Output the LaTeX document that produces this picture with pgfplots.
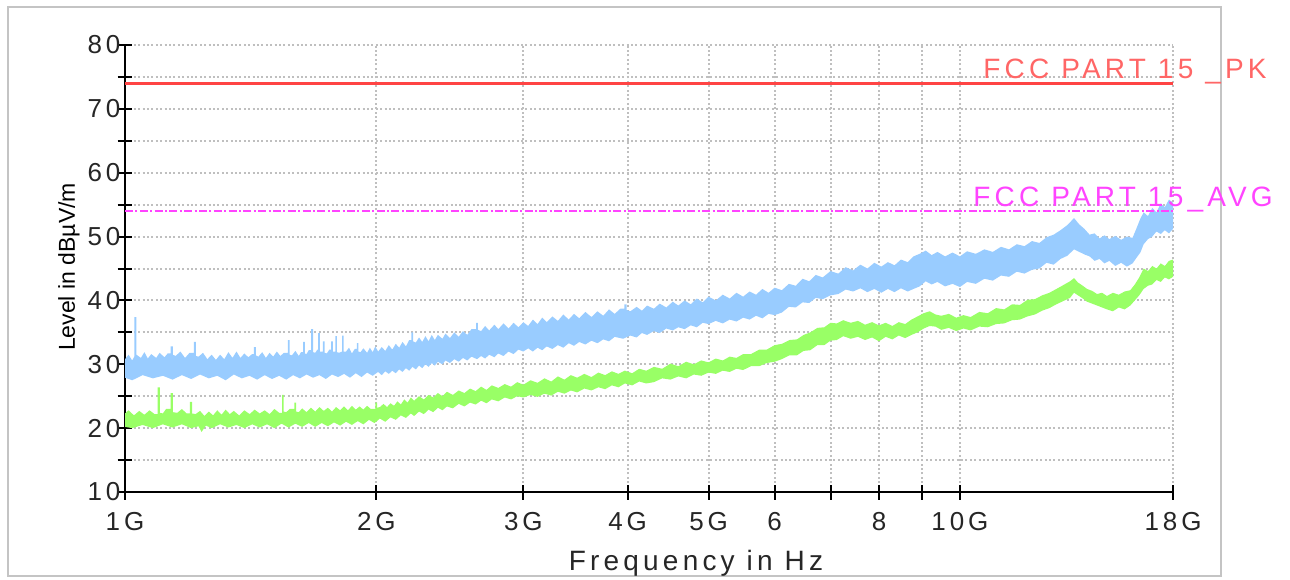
\documentclass[border=0pt]{standalone}
\usepackage{pgfplots}
\pgfplotsset{compat=1.18}
\usepackage{fontspec}
\setmainfont{Liberation Sans}
\newfontfamily\spaced[LetterSpace=15]{Liberation Sans}
\definecolor{pkblue}{HTML}{99CCFF}
\definecolor{avgreen}{HTML}{99FF66}
\definecolor{limred}{HTML}{FF4444}
\definecolor{limredtxt}{HTML}{FF6666}
\definecolor{limmag}{HTML}{FF44FF}
\definecolor{framegray}{HTML}{C4C4C4}
\begin{document}
\begin{tikzpicture}[x=0.5pt,y=0.5pt]
\path[use as bounding box] (0,0) rectangle (1290,579);
\draw[framegray, line width=1pt] (8,3) rectangle (1221,572);
\begin{axis}[
  at={(62.5pt,43.5pt)}, anchor=south west,
  scale only axis, width=524pt, height=223.5pt,
  xmode=log, xmin=1, xmax=18, ymin=10, ymax=80,
  axis x line*=bottom, axis y line*=left,
  axis line style={-, line width=1pt, black},
  xtick={1,2,3,4,5,6,7,8,9,10,18},
  xticklabels={1G,2G,3G,4G,5G,6,,8,,10G,18G},
  ytick={10,15,20,25,30,35,40,45,50,55,60,65,70,75,80},
  yticklabels={10,,20,,30,,40,,50,,60,,70,,80},
  minor xtick={}, minor ytick={},
  tick align=center, major tick length=7.5pt,
  tick style={line width=1pt, black},
  grid=major,
  major grid style={gray!50, line width=1pt, dash pattern=on 1pt off 1.2pt},
  xticklabel style={font=\spaced\fontsize{13}{15}\selectfont, color=black!85, yshift=-3pt},
  yticklabel style={font=\spaced\fontsize{13}{15}\selectfont, color=black!85, xshift=5pt},
  clip=false,
]
% Peak (blue) band: upper envelope then lower envelope reversed
\addplot[fill=pkblue, draw=none] coordinates {
(1.00,30.8) (1.01,31.5) (1.02,30.6) (1.026,31.2) (1.026,37.4) (1.032,37.4) (1.032,31.5) (1.045,31.0) (1.055,31.9)
(1.065,30.9) (1.075,31.6) (1.09,31.0) (1.10,31.8) (1.115,31.1) (1.125,31.7) (1.134,31.7) (1.134,32.8) (1.141,32.8) (1.141,31.5)
(1.15,31.3) (1.165,32.0) (1.18,31.0) (1.195,31.8) (1.209,31.8) (1.209,33.5) (1.216,33.5) (1.216,31.3) (1.225,31.2) (1.24,31.8)
(1.255,30.8) (1.27,31.5) (1.285,30.7) (1.30,31.5) (1.315,30.8) (1.33,31.9) (1.345,31.0) (1.36,32.0) (1.375,31.0)
(1.39,31.7) (1.405,31.1) (1.42,31.6) (1.427,31.6) (1.427,32.7) (1.435,32.7) (1.435,31.4) (1.445,31.2) (1.46,31.9) (1.475,31.0)
(1.49,31.8) (1.505,31.2) (1.52,32.0) (1.535,31.3) (1.55,31.8) (1.567,31.8) (1.567,33.8) (1.575,33.8) (1.575,31.5) (1.585,31.4)
(1.60,32.1) (1.615,31.3) (1.625,31.9) (1.634,31.9) (1.634,33.5) (1.642,33.5) (1.642,31.7) (1.65,31.6) (1.66,32.2)
(1.671,32.2) (1.671,35.5) (1.68,35.5) (1.68,31.9) (1.69,31.8) (1.70,32.3) (1.704,32.3) (1.704,34.9) (1.712,34.9) (1.712,32.0)
(1.718,32.0) (1.726,32.0) (1.726,33.6) (1.734,33.6) (1.734,31.8) (1.745,31.7) (1.757,32.3) (1.766,32.3) (1.766,33.6) (1.774,33.6)
(1.774,32.0) (1.786,32.0) (1.786,34.4) (1.794,34.4) (1.794,31.9) (1.805,31.8) (1.820,32.0) (1.820,34.5) (1.828,34.5) (1.828,32.0)
(1.84,32.0) (1.855,32.6) (1.87,31.7) (1.885,32.4) (1.896,32.4) (1.896,33.3) (1.904,33.3) (1.904,32.0) (1.915,31.9)
(1.93,32.5) (1.95,31.8) (1.965,32.6) (1.98,31.9) (1.995,32.8) (2.01,32.0) (2.03,32.7) (2.05,32.1) (2.07,33.0)
(2.09,32.3) (2.11,33.2) (2.13,32.6) (2.15,33.5) (2.17,32.8) (2.19,33.8) (2.203,33.8) (2.203,35.0) (2.213,35.0) (2.213,33.6)
(2.23,33.4) (2.25,34.2) (2.27,33.5) (2.29,34.4) (2.31,33.6) (2.33,34.6) (2.35,33.8) (2.37,34.6) (2.40,34.0) (2.42,34.8)
(2.45,34.1) (2.48,35.0) (2.51,34.3) (2.54,35.2) (2.57,34.6) (2.60,35.5) (2.634,35.5) (2.634,36.5) (2.646,36.5) (2.646,35.4)
(2.67,35.2) (2.70,36.0) (2.73,35.3) (2.77,36.2) (2.80,35.5) (2.84,36.4) (2.88,35.6) (2.92,36.5) (2.96,35.8)
(3.0,36.6) (3.04,36.0) (3.08,37.0) (3.12,36.3) (3.16,37.3) (3.2,36.6) (3.25,37.5) (3.3,36.8) (3.35,37.8)
(3.4,37.0) (3.45,37.9) (3.5,37.2) (3.56,38.2) (3.62,37.4) (3.68,38.3) (3.74,37.6) (3.8,38.6) (3.86,37.9)
(3.92,38.7) (3.965,38.7) (3.965,39.4) (3.99,39.4) (3.99,38.5) (4.03,38.3) (4.1,39.0) (4.16,38.4) (4.22,39.2) (4.3,38.7)
(4.37,39.5) (4.45,38.9) (4.53,39.8) (4.6,39.2) (4.68,40.0) (4.76,39.4) (4.84,40.3) (4.92,39.7) (5.0,40.6)
(5.1,40.0) (5.2,40.9) (5.3,40.3) (5.4,41.2) (5.5,40.6) (5.6,41.4) (5.7,40.9) (5.8,41.8) (5.9,41.2) (6.0,42.0)
(6.12,41.6) (6.24,42.6) (6.36,42.3) (6.48,43.4) (6.6,43.0) (6.72,44.0) (6.85,43.6) (7.0,44.6) (7.15,44.2)
(7.3,45.2) (7.45,44.7) (7.6,45.6) (7.75,45.0) (7.9,45.9) (8.05,45.3) (8.2,46.0) (8.35,45.5) (8.5,46.4)
(8.66,46.0) (8.8,46.9) (8.95,47.3) (9.1,47.8) (9.25,47.1) (9.4,47.6) (9.6,46.9) (9.8,47.5) (10.0,46.9)
(10.2,47.7) (10.45,47.3) (10.7,48.0) (10.95,47.6) (11.2,48.4) (11.45,48.0) (11.7,48.8) (11.95,48.5) (12.2,49.3)
(12.45,49.0) (12.7,49.9) (12.95,50.3) (13.2,51.0) (13.45,51.8) (13.7,52.9) (13.9,51.9) (14.1,51.2) (14.3,50.3)
(14.5,50.5) (14.7,49.7) (14.9,50.2) (15.1,49.6) (15.35,50.1) (15.6,49.5) (15.85,50.0) (16.1,49.8) (16.3,51.5)
(16.45,52.8) (16.6,53.8) (16.8,53.2) (17.0,54.5) (17.2,53.8) (17.4,55.2) (17.6,54.6) (17.8,55.8) (18.0,55.3)
(18.0,51.2) (17.8,50.5) (17.6,51.0) (17.4,50.4) (17.2,50.8) (17.0,50.0) (16.8,49.6) (16.6,48.8) (16.45,47.5)
(16.3,46.8) (16.1,45.8) (15.85,45.3) (15.6,45.9) (15.35,45.4) (15.1,46.2) (14.9,45.8) (14.7,46.5) (14.5,46.2)
(14.3,46.9) (14.1,47.2) (13.9,47.6) (13.7,48.0) (13.45,47.0) (13.2,46.5) (12.95,45.6) (12.7,45.9) (12.45,45.0)
(12.2,44.8) (11.95,44.2) (11.7,44.5) (11.45,43.7) (11.2,43.9) (10.95,43.1) (10.7,43.4) (10.45,42.6) (10.2,42.9)
(10.0,42.1) (9.8,42.6) (9.6,42.2) (9.4,42.9) (9.25,42.5) (9.1,43.0) (8.95,42.2) (8.8,41.8) (8.66,41.4)
(8.5,41.9) (8.35,41.3) (8.2,41.8) (8.05,41.2) (7.9,41.8) (7.75,41.3) (7.6,41.9) (7.45,41.4) (7.3,41.7)
(7.15,41.0) (7.0,40.8) (6.85,40.2) (6.72,40.4) (6.6,39.6) (6.48,39.7) (6.36,38.9) (6.24,39.0) (6.12,38.1)
(6.0,37.7) (5.9,37.9) (5.8,37.2) (5.7,37.6) (5.6,37.0) (5.5,37.3) (5.4,36.7) (5.3,37.0) (5.2,36.4) (5.1,36.8)
(5.0,36.3) (4.92,36.5) (4.84,35.8) (4.76,36.1) (4.68,35.5) (4.6,35.8) (4.53,35.3) (4.45,35.6) (4.37,34.9)
(4.3,35.2) (4.22,34.6) (4.16,34.9) (4.1,34.2) (4.03,34.5) (3.95,34.0) (3.86,34.3) (3.8,33.6) (3.74,33.9)
(3.68,33.3) (3.62,33.7) (3.56,33.1) (3.5,33.5) (3.45,32.9) (3.4,33.3) (3.35,32.6) (3.3,33.0) (3.25,32.4)
(3.2,32.8) (3.16,32.2) (3.12,32.6) (3.08,32.0) (3.04,32.5) (3.0,32.0) (2.96,32.3) (2.92,31.6) (2.88,32.0)
(2.84,31.3) (2.80,31.7) (2.77,31.1) (2.73,31.5) (2.70,30.9) (2.67,31.3) (2.64,30.8) (2.60,31.2) (2.57,30.6)
(2.54,31.0) (2.51,30.4) (2.48,30.8) (2.45,30.2) (2.42,30.6) (2.40,30.0) (2.37,30.4) (2.35,29.8) (2.33,30.2)
(2.31,29.6) (2.29,30.0) (2.27,29.4) (2.25,29.8) (2.23,29.2) (2.21,29.6) (2.19,29.0) (2.17,29.4) (2.15,28.8)
(2.13,29.2) (2.11,28.6) (2.09,29.0) (2.07,28.5) (2.05,28.9) (2.03,28.3) (2.01,28.8) (1.98,28.2) (1.95,28.7)
(1.92,28.0) (1.89,28.6) (1.86,27.9) (1.83,28.5) (1.80,28.0) (1.77,28.4) (1.74,27.7) (1.71,28.3) (1.68,27.9)
(1.65,28.4) (1.62,27.8) (1.59,28.3) (1.56,27.6) (1.53,28.2) (1.50,27.7) (1.47,28.3) (1.44,27.6) (1.41,28.2)
(1.38,27.8) (1.35,28.4) (1.32,27.5) (1.29,28.2) (1.26,27.8) (1.23,28.4) (1.20,27.7) (1.17,28.3) (1.14,27.6)
(1.11,28.2) (1.08,27.8) (1.05,28.3) (1.02,27.5) (1.0,27.9)
};
% Average (green) band
\addplot[fill=avgreen, draw=none] coordinates {
(1.0,22.3) (1.01,22.8) (1.025,22.0) (1.04,22.7) (1.055,22.1) (1.07,22.8) (1.085,22.2) (1.094,22.2) (1.094,26.4)
(1.101,26.4) (1.101,22.4) (1.11,22.3) (1.12,23.0) (1.134,23.0) (1.134,25.5) (1.141,25.5) (1.141,22.5) (1.155,22.4)
(1.17,23.0) (1.185,22.3) (1.196,22.3) (1.196,24.1) (1.203,24.1) (1.203,22.3) (1.215,22.2) (1.23,22.7) (1.245,21.9)
(1.26,22.6) (1.275,22.0) (1.29,22.8) (1.305,22.1) (1.32,22.9) (1.335,22.2) (1.35,22.7) (1.37,22.0) (1.39,22.8)
(1.41,22.2) (1.43,22.9) (1.45,22.3) (1.47,22.8) (1.49,22.2) (1.51,23.0) (1.53,22.4) (1.542,22.4) (1.542,25.2)
(1.549,25.2) (1.549,22.6) (1.56,22.5) (1.575,23.0) (1.596,23.0) (1.596,24.0) (1.603,24.0) (1.603,22.6) (1.615,22.5)
(1.63,23.1) (1.65,22.5) (1.67,23.2) (1.69,22.6) (1.71,23.3) (1.73,22.7) (1.75,23.2) (1.77,22.6) (1.79,23.3)
(1.81,22.8) (1.83,23.4) (1.85,22.8) (1.87,23.5) (1.89,22.9) (1.91,23.4) (1.93,22.9) (1.95,23.5) (1.97,23.0)
(1.995,23.0) (1.995,24.0) (2.004,24.0) (2.004,23.2) (2.02,23.3) (2.04,23.8) (2.06,23.3) (2.08,23.9) (2.10,23.5)
(2.12,24.2) (2.14,23.7) (2.16,24.5) (2.18,24.0) (2.20,24.8) (2.22,24.3) (2.25,25.0) (2.28,24.5) (2.31,25.2)
(2.34,24.8) (2.37,25.5) (2.40,25.0) (2.43,25.7) (2.47,25.2) (2.51,25.9) (2.55,25.5) (2.59,26.2) (2.63,25.8)
(2.67,26.5) (2.71,26.0) (2.75,26.7) (2.80,26.3) (2.85,26.9) (2.90,26.5) (2.95,27.2) (3.0,26.8) (3.06,27.5)
(3.12,27.1) (3.18,27.8) (3.24,27.3) (3.3,28.1) (3.36,27.6) (3.42,28.3) (3.48,27.9) (3.55,28.5) (3.62,28.0)
(3.69,28.7) (3.76,28.3) (3.83,28.9) (3.9,28.5) (3.97,29.0) (4.05,28.6) (4.13,29.3) (4.21,29.0) (4.3,29.6)
(4.4,29.3) (4.5,30.1) (4.6,29.7) (4.7,30.4) (4.8,30.0) (4.9,30.6) (5.0,30.3) (5.1,30.9) (5.2,30.6) (5.3,31.2)
(5.4,31.0) (5.5,31.6) (5.62,31.6) (5.75,32.3) (5.87,32.3) (6.0,33.0) (6.12,33.2) (6.25,33.8) (6.38,33.9)
(6.5,34.6) (6.62,35.0) (6.75,35.7) (6.88,35.8) (7.0,36.5) (7.12,36.4) (7.25,36.9) (7.4,36.5) (7.55,36.8)
(7.7,36.2) (7.85,36.6) (8.0,36.1) (8.15,36.5) (8.3,36.0) (8.45,36.6) (8.6,36.3) (8.75,37.0) (8.9,37.5)
(9.05,38.0) (9.2,38.3) (9.35,37.8) (9.5,37.6) (9.7,37.9) (9.9,37.3) (10.1,37.7) (10.3,37.4) (10.55,38.2)
(10.8,38.0) (11.05,38.8) (11.3,38.6) (11.55,39.4) (11.8,39.3) (12.05,40.1) (12.3,40.2) (12.55,40.8) (12.8,41.2)
(13.05,41.8) (13.3,42.4) (13.55,43.0) (13.7,43.5) (13.85,42.8) (14.0,42.4) (14.2,41.8) (14.4,41.5) (14.6,41.0)
(14.8,41.2) (15.0,40.7) (15.25,41.2) (15.5,40.9) (15.75,41.4) (16.0,41.6) (16.2,42.5) (16.4,43.6) (16.6,45.0)
(16.8,44.6) (17.0,45.4) (17.2,45.0) (17.4,45.8) (17.6,45.4) (17.8,46.2) (18.0,46.4)
(18.0,43.7) (17.8,43.3) (17.6,43.6) (17.4,42.9) (17.2,43.2) (17.0,42.5) (16.8,42.3) (16.6,41.8) (16.4,40.8)
(16.2,40.0) (16.0,39.2) (15.75,38.6) (15.5,38.9) (15.25,38.3) (15.0,38.6) (14.8,38.9) (14.6,39.2) (14.4,39.5)
(14.2,39.8) (14.0,40.4) (13.85,40.8) (13.7,41.2) (13.55,40.4) (13.3,39.9) (13.05,39.4) (12.8,38.8) (12.55,38.4)
(12.3,37.8) (12.05,37.5) (11.8,37.0) (11.55,36.9) (11.3,36.4) (11.05,36.3) (10.8,35.8) (10.55,35.9) (10.3,35.3)
(10.1,35.6) (9.9,35.2) (9.7,35.7) (9.5,35.4) (9.35,35.9) (9.2,36.0) (9.05,35.6) (8.9,35.0) (8.75,34.6)
(8.6,34.1) (8.45,34.5) (8.3,33.9) (8.15,34.3) (8.0,33.6) (7.85,34.2) (7.7,33.8) (7.55,34.3) (7.4,34.0)
(7.25,34.4) (7.12,33.8) (7.0,33.7) (6.88,33.0) (6.75,33.0) (6.62,32.2) (6.5,32.1) (6.38,31.4) (6.25,31.4)
(6.12,30.8) (6.0,30.4) (5.87,30.2) (5.75,29.7) (5.62,29.7) (5.5,29.1) (5.4,29.3) (5.3,28.8) (5.2,29.0)
(5.1,28.5) (5.0,28.7) (4.9,28.2) (4.8,28.4) (4.7,27.8) (4.6,28.1) (4.5,27.6) (4.4,27.8) (4.3,27.2) (4.21,27.0)
(4.13,27.3) (4.05,26.7) (3.97,27.0) (3.9,26.4) (3.83,26.7) (3.76,26.1) (3.69,26.4) (3.62,25.9) (3.55,26.2)
(3.48,25.6) (3.42,25.9) (3.36,25.4) (3.3,25.7) (3.24,25.1) (3.18,25.4) (3.12,24.9) (3.06,25.2) (3.0,24.8)
(2.95,25.0) (2.90,24.5) (2.85,24.8) (2.80,24.2) (2.75,24.5) (2.71,23.9) (2.67,24.3) (2.63,23.7) (2.59,24.0)
(2.55,23.4) (2.51,23.8) (2.47,23.1) (2.43,23.4) (2.40,22.8) (2.37,23.2) (2.34,22.5) (2.31,22.9) (2.28,22.2)
(2.25,22.6) (2.22,21.9) (2.20,22.3) (2.17,21.6) (2.14,22.0) (2.11,21.3) (2.08,21.7) (2.05,21.0) (2.02,21.5)
(1.99,20.8) (1.96,21.3) (1.93,20.6) (1.90,21.1) (1.87,20.5) (1.84,21.0) (1.81,20.4) (1.78,20.9) (1.75,20.3)
(1.72,20.8) (1.69,20.2) (1.66,20.8) (1.63,20.2) (1.60,20.7) (1.57,20.1) (1.54,20.7) (1.51,20.0) (1.48,20.6)
(1.45,20.1) (1.42,20.6) (1.39,20.0) (1.36,20.5) (1.33,20.1) (1.30,20.6) (1.27,20.0) (1.25,20.4) (1.235,19.4)
(1.225,20.3) (1.20,20.0) (1.17,20.6) (1.14,20.1) (1.11,20.6) (1.08,20.0) (1.05,20.5) (1.02,20.0) (1.0,20.2)
};
% Limit lines
\addplot[limred, line width=1.5pt] coordinates {(1,74) (18,74)};
\addplot[limmag, line width=1pt, dash pattern=on 4pt off 1.2pt on 1pt off 1.2pt] coordinates {(1,54) (18,54)};
\end{axis}
\node[anchor=base west, inner sep=0pt, text=limredtxt, font=\spaced\fontsize{14}{16}\selectfont] at (983,500) {FCC PART 15 \_PK};
\node[anchor=base west, inner sep=0pt, text=limmag, font=\spaced\fontsize{14}{16}\selectfont] at (973,372) {FCC PART 15\_AVG};
\node[anchor=base, inner sep=0pt, text=black!85, font=\spaced\fontsize{14}{16}\selectfont] at (696,9) {Frequency in Hz};
\node[rotate=90, inner sep=0pt, font=\fontsize{11.5}{13}\selectfont] at (69,312) {Level in dBµV/m};
\end{tikzpicture}
\end{document}
